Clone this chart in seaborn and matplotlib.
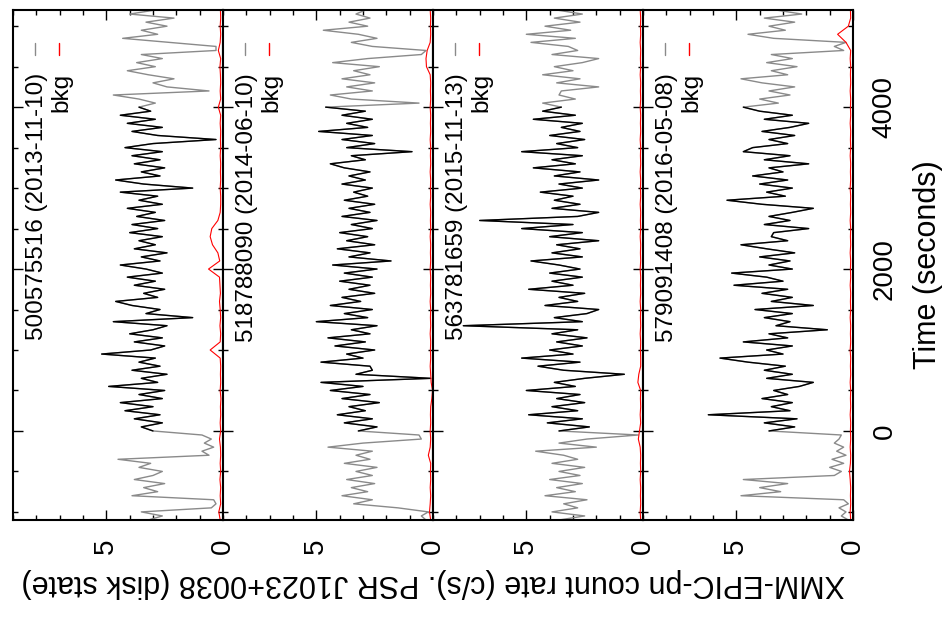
import numpy as np
import pandas as pd
import matplotlib
matplotlib.use("Agg")
import matplotlib.pyplot as plt
from matplotlib.ticker import MultipleLocator, FixedLocator
import seaborn as sns

# ---------------- data ----------------
OBS_IDS = ["500575516 (2013-11-10)", "518788090 (2014-06-10)",
           "563781659 (2015-11-13)", "579091408 (2016-05-08)"]
BKG_LABEL = "bkg"

# light-curve bins (seconds)
BIN_START, BIN_STEP, N_BINS = -1100, 50, 127
# background bins (seconds)
BKG_START, BKG_STEP, N_BKG = -1100, 100, 64
# highlighted (black) segment
SEG_START, SEG_END = 0, 4000

RATE_1 = [3.2, 2.6, 3.5, 0.5, 0.3, 0.4, 3.9, 2.8, 3.4, 2.5, 3.8, 3.0, 2.6, 3.6, 3.1, 4.5, 0.6, 0.9, 0.4, 0.8, 0.5, 0.9,
          3.0, 3.5, 2.6, 3.8, 2.7, 4.2, 3.0, 4.4, 2.6, 3.6,
          2.5, 4.9, 2.8, 3.5, 2.4, 3.9, 2.7, 3.6, 2.9, 5.2,
          3.1, 2.5, 3.8, 2.6, 4.0, 3.0, 2.4, 4.7, 1.3, 3.3,
          2.7, 3.9, 4.6, 2.8, 3.4, 2.5, 3.8, 2.9, 4.1, 2.6,
          3.3, 4.4, 2.7, 3.5, 2.4, 3.8, 2.9, 3.6, 2.6, 4.0,
          2.8, 3.9, 2.5, 3.7, 2.9, 4.1, 2.6, 3.6, 2.8, 4.4,
          1.3, 3.4, 4.6, 2.7, 3.5, 2.5, 3.8, 2.7, 3.9, 2.6,
          4.2, 3.0, 0.3, 2.8, 3.9, 2.6, 4.1, 2.9, 4.4, 3.1,
          3.6,
          2.9, 3.6, 4.7, 0.6, 2.4, 3.0, 2.1, 3.2, 4.1, 2.9, 3.7, 2.6, 3.5, 0.3, 0.3, 2.3, 4.3, 2.8, 3.5, 2.4,
          3.3, 2.1, 4.0, 2.9]

RATE_2 = [0.3, 0.5, 0.2, 1.5, 3.4, 2.6, 3.9, 2.8, 3.5, 2.5, 3.7, 2.6, 3.3, 2.4, 3.8, 2.7, 3.3, 2.6, 4.5, 3.0, 0.5, 0.6,
          3.2, 2.4, 3.8, 2.6, 4.1, 2.9, 3.6, 2.3, 3.9, 2.7,
          4.4, 3.0, 4.8, 0.1, 3.3, 2.6, 2.7, 4.8, 3.0, 3.7,
          2.5, 4.2, 2.9, 4.5, 2.7, 3.5, 2.4, 5.0, 2.8, 3.8,
          2.6, 4.4, 3.1, 3.9, 2.5, 3.6, 2.7, 4.0, 2.6, 3.8,
          2.4, 4.3, 1.8, 3.6, 2.7, 4.1, 2.5, 3.7, 2.8, 4.0,
          2.6, 3.5, 2.4, 3.9, 2.7, 3.6, 2.5, 3.8, 2.8, 3.4,
          2.6, 3.9, 2.9, 3.6, 2.7, 3.8, 4.4, 2.9, 3.5, 0.9,
          3.7, 2.5, 3.9, 2.6, 4.9, 2.8, 3.7, 2.6, 3.9, 2.9,
          4.6,
          0.6, 3.5, 4.4, 2.6, 3.7, 2.5, 3.9, 2.7, 3.4, 2.3, 4.3, 2.8, 0.5, 0.3, 2.6, 3.5, 2.4, 3.2, 4.7, 2.8,
          3.6, 2.7, 3.3, 2.9]

RATE_3 = [3.6, 2.5, 3.9, 2.8, 3.4, 2.4, 4.2, 2.9, 3.7, 2.6, 4.0, 2.7, 3.6, 2.5, 3.9, 2.8, 3.4, 4.6, 2.0, 3.6, 2.4, 0.2,
          3.6, 2.3, 4.1, 2.6, 4.9, 2.8, 3.9, 2.5, 3.7, 2.7,
          5.0, 2.9, 3.8, 2.5, 0.8, 3.4, 4.5, 2.7, 5.2, 3.0,
          4.0, 2.6, 3.7, 2.4, 3.9, 2.8, 7.7, 2.6, 3.8, 2.4,
          1.9, 4.2, 2.8, 3.6, 2.5, 4.9, 3.0, 3.9, 2.6, 4.0,
          2.7, 3.6, 4.8, 2.6, 3.9, 2.7, 3.7, 1.9, 4.0, 2.6,
          5.2, 3.0, 7.0, 2.8, 1.9, 3.9, 2.7, 3.8, 3.0, 4.4,
          2.6, 3.6, 1.9, 3.8, 2.7, 4.7, 2.9, 3.9, 2.6, 5.2,
          2.8, 3.7, 2.5, 4.0, 2.7, 3.5, 2.6, 4.7, 2.9, 4.3,
          3.5,
          4.3, 2.9, 3.6, 3.5, 1.9, 3.7, 2.7, 4.3, 3.0, 3.8, 2.6, 1.9, 3.9, 2.8, 3.2, 4.8, 2.9, 5.0, 3.1, 4.2,
          2.7, 3.8, 2.6, 3.7]

RATE_4 = [0.2, 0.5, 0.3, 0.6, 0.2, 0.4, 4.8, 3.1, 4.0, 2.8, 4.7, 0.8, 0.5, 1.0, 0.4, 0.9, 0.3, 0.7, 0.4, 0.8, 0.6, 0.5,
          3.6, 2.5, 3.8, 2.4, 6.2, 2.7, 3.5, 2.6, 3.9, 2.8,
          3.4, 2.3, 1.7, 3.7, 2.6, 3.8, 2.9, 4.5, 5.7, 3.0,
          3.7, 2.6, 4.7, 2.8, 3.6, 1.1, 3.3, 2.7, 3.8, 2.6,
          4.2, 1.7, 3.5, 2.6, 3.9, 2.8, 5.1, 3.0, 3.7, 5.2,
          2.6, 3.6, 2.7, 4.0, 2.5, 3.7, 4.8, 2.8, 3.5, 3.4,
          1.9, 3.8, 2.7, 3.6, 2.6, 1.7, 3.9, 5.4, 2.9, 3.7,
          2.6, 4.0, 2.8, 4.3, 3.0, 3.6, 1.9, 3.8, 2.7, 4.7,
          4.3, 2.8, 3.6, 2.5, 3.9, 2.7, 1.9, 3.8, 2.6, 4.0,
          4.7,
          3.2, 4.0, 2.7, 3.6, 2.5, 3.9, 4.8, 2.8, 3.5, 2.4, 3.7, 2.6, 3.5, 0.4, 0.8, 0.3, 3.4, 4.5, 2.9, 3.6,
          2.5, 3.8, 2.2, 3.3]

BKG_1 = [0.12, 0.18, 0.10, 0.12, 0.10, 0.13, 0.10, 0.12, 0.10, 0.11,
         0.15, 0.10, 0.12, 0.10, 0.11, 0.09, 0.12, 0.10, 0.11, 0.10,
         0.12, 0.55, 0.12, 0.10, 0.13, 0.10, 0.12, 0.15, 0.11, 0.13,
         0.15, 0.62, 0.14, 0.22, 0.45, 0.55, 0.48, 0.22, 0.12, 0.10,
         0.10, 0.12, 0.10, 0.11, 0.10, 0.12, 0.10, 0.11, 0.10, 0.12,
         0.10, 0.20, 0.10, 0.12, 0.10, 0.11, 0.13, 0.10, 0.20, 0.12,
         0.10, 0.12, 0.10, 0.11]
BKG_2 = [0.10, 0.15, 0.12, 0.10, 0.12, 0.10, 0.11, 0.10, 0.20, 0.12,
         0.10, 0.12, 0.10, 0.11, 0.10, 0.05, 0.02, 0.08, 0.10, 0.12,
         0.10, 0.11, 0.10, 0.12, 0.10, 0.11, 0.10, 0.12, 0.10, 0.11,
         0.10, 0.12, 0.10, 0.11, 0.10, 0.12, 0.10, 0.11, 0.10, 0.12,
         0.10, 0.11, 0.10, 0.12, 0.10, 0.11, 0.10, 0.12, 0.10, 0.11,
         0.10, 0.12, 0.10, 0.11, 0.10, 0.12, 0.28, 0.30, 0.25, 0.12,
         0.10, 0.11, 0.10, 0.12]
BKG_3 = [0.10, 0.12, 0.10, 0.11, 0.10, 0.12, 0.10, 0.11, 0.10, 0.12,
         0.20, 0.15, 0.10, 0.12, 0.10, 0.11, 0.10, 0.22, 0.18, 0.10,
         0.10, 0.11, 0.10, 0.12, 0.10, 0.11, 0.10, 0.12, 0.10, 0.11,
         0.10, 0.12, 0.10, 0.11, 0.10, 0.12, 0.10, 0.11, 0.10, 0.12,
         0.10, 0.11, 0.10, 0.12, 0.10, 0.11, 0.10, 0.12, 0.10, 0.11,
         0.10, 0.12, 0.10, 0.11, 0.10, 0.12, 0.10, 0.11, 0.10, 0.12,
         0.10, 0.11, 0.10, 0.12]
BKG_4 = [0.10, 0.12, 0.10, 0.11, 0.10, 0.12, 0.15, 0.11, 0.10, 0.12,
         0.10, 0.11, 0.10, 0.12, 0.10, 0.11, 0.10, 0.12, 0.10, 0.11,
         0.10, 0.12, 0.10, 0.11, 0.10, 0.12, 0.10, 0.11, 0.10, 0.12,
         0.10, 0.11, 0.10, 0.12, 0.10, 0.11, 0.10, 0.12, 0.10, 0.11,
         0.10, 0.12, 0.10, 0.11, 0.10, 0.12, 0.10, 0.11, 0.10, 0.12,
         0.10, 0.11, 0.10, 0.12, 0.10, 0.11, 0.10, 0.12, 0.10, 0.30,
         0.66, 0.20, 0.10, 0.11]

RATES = [RATE_1, RATE_2, RATE_3, RATE_4]
BKGS = [BKG_1, BKG_2, BKG_3, BKG_4]

X_TICKS = [0, 5]
Y_TICKS = [0, 2000, 4000]
XLABEL = "XMM-EPIC-pn count rate (c/s). PSR J1023+0038 (disk state)"
YLABEL = "Time (seconds)"

# ---------------- style ----------------
sns.set_style("white")
plt.rcParams["font.family"] = ["Liberation Sans", "DejaVu Sans"]
plt.rcParams["text.color"] = "black"
plt.rcParams["axes.labelcolor"] = "black"
plt.rcParams["xtick.color"] = "black"
plt.rcParams["ytick.color"] = "black"

GRAY = "#8a8a8a"
W, H = 945, 620
fig = plt.figure(figsize=(W / 100, H / 100), dpi=100)

time = BIN_START + BIN_STEP * np.arange(N_BINS)
btime = BKG_START + BKG_STEP * np.arange(N_BKG)

for k in range(4):
    ax = fig.add_axes([(13 + 210 * k) / W, 1 - 520 / H, 210 / W, 510 / H])
    df = pd.DataFrame({"time": time, "rate": RATES[k]})
    seg = df[(df["time"] >= SEG_START) & (df["time"] <= SEG_END)]
    dfb = pd.DataFrame({"time": btime, "rate": BKGS[k]})
    sns.lineplot(data=df, x="rate", y="time", orient="y", sort=False,
                 estimator=None, color=GRAY, lw=1.0, ax=ax)
    sns.lineplot(data=seg, x="rate", y="time", orient="y", sort=False,
                 estimator=None, color="black", lw=1.0, ax=ax)
    sns.lineplot(data=dfb, x="rate", y="time", orient="y", sort=False,
                 estimator=None, color="red", lw=0.8, ax=ax)
    ax.set_xlim(9, 0)
    ax.set_ylim(-1100, 5200)
    ax.set_xlabel("")
    ax.set_ylabel("")

    ax.xaxis.set_major_locator(FixedLocator(X_TICKS))
    ax.xaxis.set_minor_locator(MultipleLocator(1))
    ax.yaxis.set_major_locator(FixedLocator(Y_TICKS))
    ax.yaxis.set_minor_locator(MultipleLocator(500))
    ax.tick_params(axis="both", which="both", direction="in", color="black",
                   labelcolor="black",
                   top=True, bottom=True, left=True, right=True, width=1.0)
    ax.tick_params(axis="both", which="major", length=7)
    ax.tick_params(axis="both", which="minor", length=3.5)
    ax.tick_params(axis="x", labelsize=20, labelrotation=90, pad=13.5)
    ax.tick_params(axis="y", labelsize=20, labelrotation=90, pad=13.5,
                   labelleft=False, labelright=(k == 3))
    for lab in ax.get_yticklabels():
        lab.set_verticalalignment("center")
    for sp in ax.spines.values():
        sp.set_color("black")
        sp.set_linewidth(1.5)

    # rotated key
    ax.text(0.112, 0.876, OBS_IDS[k], rotation=90, ha="center", va="top",
            fontsize=17.5, color="black", transform=ax.transAxes)
    ax.text(0.229, 0.876, BKG_LABEL, rotation=90, ha="center", va="top",
            fontsize=17.5, color="black", transform=ax.transAxes)
    ax.plot([0.105, 0.105], [0.912, 0.935], transform=ax.transAxes,
            color=GRAY, lw=1.0)
    ax.plot([0.221, 0.221], [0.912, 0.935], transform=ax.transAxes,
            color="red", lw=1.0)

fig.text(928 / W, 1 - 265 / H, YLABEL, rotation=90, ha="center",
         va="center", fontsize=22, color="black")
fig.text(433 / W, 1 - 583 / H, XLABEL, rotation=180, ha="center",
         va="center", fontsize=22, color="black")

fig.savefig("out.png", dpi=100)
